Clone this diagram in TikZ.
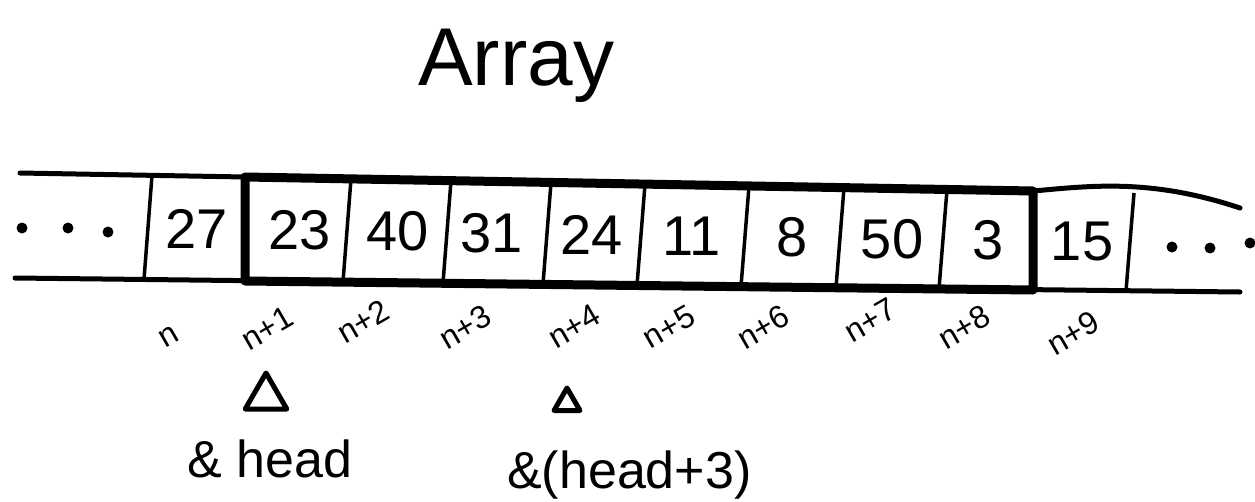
\documentclass[tikz,border=0pt]{standalone}
\usepackage{fontspec}
\setmainfont{Liberation Sans}
\usetikzlibrary{shapes.geometric,positioning}

\begin{document}
\begin{tikzpicture}[x=1pt,y=-1pt,
  cellval/.style={font=\fontsize{56}{56}\selectfont, inner sep=0pt},
  idx/.style={font=\fontsize{32}{32}\selectfont, rotate=30, inner sep=0pt},
  ptr/.style={draw, line width=5pt, line join=round, regular polygon, regular polygon sides=3, minimum size=#1, inner sep=0pt},
  addr/.style={font=\fontsize{52}{52}\selectfont, inner sep=0pt, anchor=base west},
  rail/.style={line width=5pt, line cap=round}]
  \useasboundingbox (0,0) rectangle (1255,501);

  \node[font=\fontsize{82}{82}\selectfont, inner sep=0pt, anchor=base west] (title) at (418,85) {Array};

  % rails of the array
  \draw[rail] (20,173) -- (1033,191) .. controls (1090,186) and (1150,178) .. (1240,208);
  \draw[rail] (15,278) -- (1240,292);

  % thick frame round n+1 .. n+8
  \draw[line width=9pt, line join=round] (245,177) -- (1033,191) -- (1033,290) -- (245,281) -- cycle;

  \foreach \x in {148,347,447,547,641,745,840,943,1130} {
    \pgfmathsetmacro\yt{173+0.018*(\x-20)}
    \pgfmathsetmacro\yb{278+0.0115*(\x-15)}
    \draw[line width=3.5pt] (\x+4,\yt) -- (\x-4,\yb);
  }

  \fill (22,228) circle (5.5);
  \fill (68,228) circle (5.5);
  \fill (108,232) circle (5.5);
  \fill (1172,247) circle (5.5);
  \fill (1210,248) circle (5.5);
  \fill (1250,243) circle (5.5);

  \foreach \v/\x [count=\i] in {27/197, 23/300, 40/398, 31/492, 24/592, 11/692, 8/792, 50/892, 3/988, 15/1082} {
    \pgfmathsetmacro\ym{226+0.0148*(\x-20)}
    \node[cellval] (val\i) at (\x,\ym) {\v};
  }

  \foreach \t/\x/\y [count=\i] in {n/169/337, n+1/267/328, n+2/363/321, n+3/465/327, n+4/574/326,
      n+5/669/327, n+6/763/327, n+7/870/320, n+8/964/327, n+9/1073/333}
    \node[idx] (idx\i) at (\x,\y) {\t};

  \node[ptr=48pt] (ptrHead) at (266,397) {};
  \node[ptr=30pt] (ptrThird) at (567,403) {};
  \node[addr] (addrHead) at (187,477) {\& head};
  \node[addr] (addrThird) at (507,488) {\&(head+3)};
\end{tikzpicture}
\end{document}
